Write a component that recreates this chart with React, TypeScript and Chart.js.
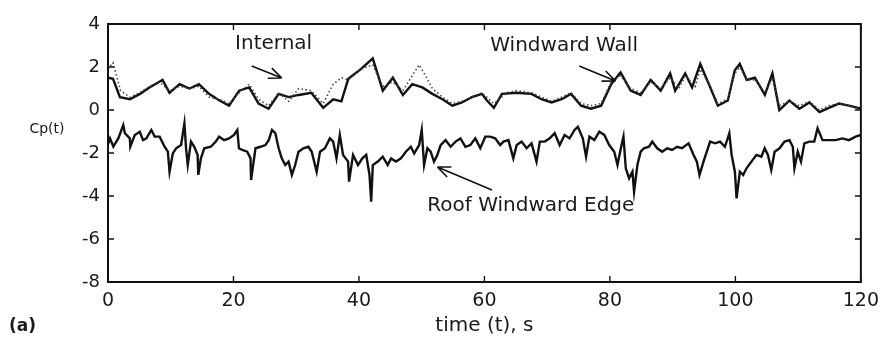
import React, { useEffect, useRef } from 'react';
import { Chart, registerables } from 'chart.js';

Chart.register(...registerables);

const FONT = '"DejaVu Sans", "Liberation Sans", sans-serif';

// time (s) and Cp(t) values
const tWall = [
  0, 0.8, 1.9, 3.5, 5.1, 6.6, 8.7, 9.8, 11.4, 13.0,
  14.5, 16.1, 17.7, 19.3, 20.9, 22.5, 24.0, 25.6, 27.2, 28.8,
  30.4, 32.4, 34.3, 35.9, 37.2, 38.3, 40.3, 42.2, 43.8, 45.4,
  47.0, 48.5, 50.1, 51.7, 53.3, 54.9, 56.4, 58.0, 59.6, 60.4,
  61.5, 62.8, 65.1, 67.5, 69.1, 70.7, 72.3, 73.8, 75.4, 77.0,
  78.6, 80.2, 81.7, 83.3, 84.9, 86.5, 88.1, 89.6, 90.4, 92.0,
  93.1, 94.4, 96.0, 97.2, 98.8, 99.9, 100.7, 101.8, 103.1, 104.7,
  105.9, 107.0, 108.6, 110.2, 111.8, 113.4, 114.9, 116.5, 118.1, 120,
];
const cpWall = [
  1.5, 1.45, 0.6, 0.5, 0.75, 1.05, 1.4, 0.8, 1.2, 1.0,
  1.2, 0.75, 0.45, 0.2, 0.9, 1.05, 0.3, 0.06, 0.75, 0.6,
  0.7, 0.8, 0.1, 0.5, 0.4, 1.45, 1.9, 2.4, 0.9, 1.5,
  0.7, 1.2, 1.05, 0.75, 0.5, 0.2, 0.35, 0.6, 0.75, 0.44,
  0.1, 0.75, 0.8, 0.75, 0.5, 0.35, 0.5, 0.75, 0.2, 0.06,
  0.2, 1.2, 1.75, 0.9, 0.7, 1.4, 0.9, 1.7, 0.9, 1.7,
  1.05, 2.15, 1.05, 0.2, 0.44, 1.85, 2.15, 1.4, 1.5, 0.7,
  1.7, 0.0, 0.44, 0.06, 0.35, -0.1, 0.1, 0.3, 0.2, 0.06,
];

const tRoof = [
  0, 0.32, 0.85, 1.64, 2.43, 2.69, 3.48, 3.55, 4.27, 5.06,
  5.59, 6.12, 6.91, 7.44, 8.23, 9.02, 9.54, 9.81, 10.33, 10.86,
  11.65, 12.18, 12.44, 12.71, 13.23, 13.76, 14.29, 14.39, 14.81, 15.34,
  16.39, 17.18, 17.71, 18.5, 19.29, 20.08, 20.61, 20.87, 21.4, 22.19,
  22.72, 22.8, 23.51, 24.3, 25.09, 25.62, 26.14, 26.67, 27.2, 27.7,
  28.25, 28.78, 29.31, 29.83, 30.36, 31.15, 31.94, 32.47, 33.26, 33.79,
  34.58, 35.37, 35.89, 36.42, 36.95, 37.47, 38.27, 38.42, 39.06, 39.85,
  40.53, 41.16, 41.68, 41.95, 42.21, 43.0, 43.79, 44.58, 45.11, 45.9,
  46.69, 47.48, 48.27, 48.8, 49.59, 50.01, 50.38, 50.91, 51.43, 51.96,
  52.49, 53.02, 53.8, 54.6, 55.39, 56.18, 56.97, 57.76, 58.55, 59.34,
  60.13, 60.92, 61.71, 62.5, 63.03, 63.82, 64.61, 65.14, 65.93, 66.72,
  67.51, 68.3, 68.83, 69.62, 70.41, 71.2, 71.99, 72.78, 73.57, 74.36,
  74.89, 75.68, 76.2, 76.73, 77.52, 78.31, 79.1, 79.89, 80.69, 81.21,
  81.74, 82.16, 82.53, 83.06, 83.59, 83.85, 84.38, 84.9, 85.43, 86.22,
  86.75, 87.54, 88.33, 89.12, 89.91, 90.7, 91.49, 92.54, 93.34, 93.86,
  94.28, 94.92, 95.44, 95.97, 96.76, 97.55, 98.34, 99.03, 99.4, 99.92,
  100.19, 100.71, 101.24, 101.77, 102.56, 103.35, 104.14, 104.67, 105.19, 105.72,
  106.25, 107.04, 107.83, 108.62, 109.15, 109.41, 109.94, 110.46, 110.99, 111.78,
  112.57, 113.1, 113.89, 114.94, 116.0, 117.05, 118.1, 119.16, 120,
];
const cpRoof = [
  -1.6, -1.32, -1.7, -1.32, -0.70, -1.08, -1.32, -1.7, -1.16, -1.01,
  -1.40, -1.32, -0.93, -1.24, -1.24, -1.71, -1.94, -2.87, -2.02, -1.78,
  -1.63, -0.62, -1.78, -2.56, -1.47, -1.71, -2.09, -3.02, -2.25, -1.78,
  -1.71, -1.47, -1.24, -1.40, -1.32, -1.16, -0.93, -1.78, -1.86, -1.94,
  -2.25, -3.26, -1.78, -1.71, -1.63, -1.40, -0.93, -1.08, -1.78, -2.25,
  -2.56, -2.40, -3.02, -2.56, -1.94, -1.78, -1.71, -1.94, -2.87, -1.94,
  -1.78, -1.32, -1.47, -2.25, -1.16, -2.09, -2.40, -3.33, -2.09, -2.56,
  -2.25, -2.09, -3.02, -4.26, -2.56, -2.40, -2.17, -2.56, -2.25, -2.40,
  -2.25, -1.94, -1.71, -2.02, -1.63, -0.93, -2.56, -1.78, -1.94, -2.40,
  -2.09, -1.63, -1.40, -1.71, -1.47, -1.32, -1.71, -1.63, -1.32, -1.78,
  -1.24, -1.24, -1.32, -1.63, -1.47, -1.40, -2.25, -1.63, -1.47, -1.78,
  -1.55, -2.40, -1.47, -1.47, -1.32, -1.08, -1.63, -1.16, -1.32, -0.93,
  -0.78, -1.32, -2.17, -1.24, -1.40, -1.01, -1.16, -1.63, -1.94, -2.56,
  -1.78, -1.24, -2.71, -3.18, -2.87, -3.80, -2.56, -1.94, -1.78, -1.71,
  -1.47, -1.78, -1.94, -1.78, -1.86, -1.71, -1.78, -1.55, -2.09, -2.40,
  -3.02, -2.40, -1.94, -1.47, -1.55, -1.47, -1.71, -1.08, -2.09, -2.87,
  -4.11, -2.87, -3.02, -2.71, -2.40, -2.09, -2.17, -1.78, -2.09, -2.79,
  -1.94, -1.78, -1.47, -1.40, -1.71, -2.71, -1.94, -2.40, -1.55, -1.47,
  -1.47, -0.85, -1.40, -1.40, -1.40, -1.32, -1.40, -1.24, -1.16,
];

const tInternal = [
  0, 0.8, 2.0, 3.5, 5.0, 6.6, 8.2, 9.8, 11.4, 13.0,
  14.5, 16.1, 17.7, 19.3, 20.9, 22.5, 24.0, 25.6, 27.2, 28.8,
  30.4, 32.4, 34.3, 35.9, 37.2, 38.3, 40.3, 42.2, 43.8, 45.4,
  47.0, 48.5, 49.6, 50.6, 51.7, 53.3, 54.9, 56.4, 58.0, 59.6,
  61.5, 63.6, 65.1, 67.5, 69.1, 70.7, 72.3, 73.8, 75.4, 77.0,
  78.6, 80.2, 81.7, 83.3, 84.9, 86.5, 88.1, 89.6, 91.0, 92.0,
  93.6, 94.4, 96.0, 97.2, 98.8, 99.9, 100.7, 101.8, 103.1, 104.7,
  105.9, 107.0, 108.6, 110.2, 111.8, 113.4, 114.9, 116.5, 118.1, 120,
];
const cpInternal = [
  1.9, 2.2, 0.9, 0.6, 0.8, 1.1, 1.3, 0.9, 1.1, 1.0,
  1.1, 0.6, 0.5, 0.3, 0.8, 1.2, 0.5, 0.2, 0.8, 0.4,
  1.0, 0.9, 0.3, 1.2, 1.5, 1.4, 1.9, 2.1, 1.1, 1.3,
  0.9, 1.6, 2.1, 1.6, 1.0, 0.6, 0.3, 0.4, 0.6, 0.8,
  0.3, 0.8, 0.9, 0.8, 0.6, 0.4, 0.6, 0.8, 0.3, 0.2,
  0.3, 1.3, 1.6, 1.0, 0.8, 1.3, 1.0, 1.5, 1.0, 1.6,
  1.1, 1.9, 1.1, 0.3, 0.5, 1.7, 2.0, 1.4, 1.4, 0.8,
  1.5, 0.2, 0.4, 0.2, 0.4, 0.0, 0.2, 0.3, 0.2, 0.1,
];

// axis range / ticks
const X_MIN = 0;
const X_MAX = 120;
const X_STEP = 20;
const Y_MIN = -8;
const Y_MAX = 4;
const Y_STEP = 2;

// annotation labels (data coordinates)
const labelTexts = ['Internal', 'Windward Wall', 'Roof Windward Edge'];
const labelT = [26.4, 72.7, 67.4];
const labelCp = [3.07, 2.98, -4.47];
// arrows: tail -> head (data coordinates)
const arrowTailT = [22.9, 75.1, 61.2];
const arrowTailCp = [2.05, 2.05, -3.72];
const arrowHeadT = [27.7, 80.9, 52.5];
const arrowHeadCp = [1.49, 1.35, -2.65];

const zip = (xs: number[], ys: number[]) => xs.map((x, i) => ({ x, y: ys[i] }));

const decorPlugin = {
  id: 'decor',
  afterDatasetsDraw(chart: any) {
    const { ctx, chartArea: a, scales } = chart;
    const xs = scales.x;
    const ys = scales.y;
    ctx.save();
    // frame
    ctx.strokeStyle = '#111';
    ctx.lineWidth = 2;
    ctx.strokeRect(a.left, a.top, a.right - a.left, a.bottom - a.top);
    // inward tick marks on all sides
    ctx.lineWidth = 1.4;
    ctx.beginPath();
    for (const tk of xs.ticks) {
      const px = xs.getPixelForValue(tk.value);
      ctx.moveTo(px, a.bottom);
      ctx.lineTo(px, a.bottom - 6);
      ctx.moveTo(px, a.top);
      ctx.lineTo(px, a.top + 6);
    }
    for (const tk of ys.ticks) {
      const py = ys.getPixelForValue(tk.value);
      ctx.moveTo(a.left, py);
      ctx.lineTo(a.left + 6, py);
      ctx.moveTo(a.right, py);
      ctx.lineTo(a.right - 6, py);
    }
    ctx.stroke();

    // annotation labels
    ctx.fillStyle = '#1a1a1a';
    ctx.font = `20px ${FONT}`;
    ctx.textAlign = 'center';
    ctx.textBaseline = 'middle';
    labelTexts.forEach((txt, i) => {
      ctx.fillText(txt, xs.getPixelForValue(labelT[i]), ys.getPixelForValue(labelCp[i]));
    });

    // arrows
    ctx.strokeStyle = '#111';
    ctx.lineWidth = 1.6;
    for (let i = 0; i < arrowTailT.length; i++) {
      const x0 = xs.getPixelForValue(arrowTailT[i]);
      const y0 = ys.getPixelForValue(arrowTailCp[i]);
      const x1 = xs.getPixelForValue(arrowHeadT[i]);
      const y1 = ys.getPixelForValue(arrowHeadCp[i]);
      const ang = Math.atan2(y1 - y0, x1 - x0);
      const hl = 14;
      const spread = 0.4;
      ctx.beginPath();
      ctx.moveTo(x0, y0);
      ctx.lineTo(x1, y1);
      ctx.moveTo(x1, y1);
      ctx.lineTo(x1 - hl * Math.cos(ang - spread), y1 - hl * Math.sin(ang - spread));
      ctx.moveTo(x1, y1);
      ctx.lineTo(x1 - hl * Math.cos(ang + spread), y1 - hl * Math.sin(ang + spread));
      ctx.stroke();
    }

    // axis titles
    ctx.fillStyle = '#1a1a1a';
    ctx.font = `14px ${FONT}`;
    ctx.textAlign = 'center';
    ctx.fillText('Cp(t)', 47, ys.getPixelForValue(-0.9));
    ctx.font = `20px ${FONT}`;
    ctx.fillText('time (t), s', (a.left + a.right) / 2, 326);
    ctx.font = `bold 17px ${FONT}`;
    ctx.textAlign = 'left';
    ctx.fillText('(a)', 9, 327);
    ctx.restore();
  },
};

export default function App() {
  const ref = useRef<HTMLCanvasElement | null>(null);

  useEffect(() => {
    if (!ref.current) return;
    const chart = new Chart(ref.current, {
      type: 'line',
      data: {
        datasets: [
          {
            label: 'Internal',
            data: zip(tInternal, cpInternal),
            borderColor: '#444',
            borderWidth: 1.6,
            borderDash: [1.5, 2.5],
            pointRadius: 0,
            tension: 0,
            fill: false,
          },
          {
            label: 'Windward Wall',
            data: zip(tWall, cpWall),
            borderColor: '#111',
            borderWidth: 2.4,
            pointRadius: 0,
            tension: 0,
            fill: false,
          },
          {
            label: 'Roof Windward Edge',
            data: zip(tRoof, cpRoof),
            borderColor: '#111',
            borderWidth: 2.4,
            pointRadius: 0,
            tension: 0,
            fill: false,
          },
        ],
      },
      options: {
        animation: false,
        responsive: false,
        layout: { padding: { top: 24, right: 20, bottom: 0, left: 0 } },
        plugins: { legend: { display: false }, tooltip: { enabled: false } },
        scales: {
          x: {
            type: 'linear',
            min: X_MIN,
            max: X_MAX,
            ticks: {
              stepSize: X_STEP,
              maxRotation: 0,
              padding: 8,
              color: '#1a1a1a',
              font: { family: FONT, size: 19 },
            },
            grid: { display: false, drawTicks: false },
            border: { display: false },
            afterFit: (s: any) => {
              s.height = 63;
            },
          },
          y: {
            type: 'linear',
            min: Y_MIN,
            max: Y_MAX,
            ticks: {
              stepSize: Y_STEP,
              padding: 8,
              color: '#1a1a1a',
              font: { family: FONT, size: 18 },
            },
            grid: { display: false, drawTicks: false },
            border: { display: false },
            afterFit: (s: any) => {
              s.width = 108;
            },
          },
        },
      },
      plugins: [decorPlugin],
    });
    return () => chart.destroy();
  }, []);

  return (
    <div style={{ position: 'fixed', left: 0, top: 0, width: 887, height: 345, background: '#fff' }}>
      <canvas ref={ref} width={887} height={345} />
    </div>
  );
}
